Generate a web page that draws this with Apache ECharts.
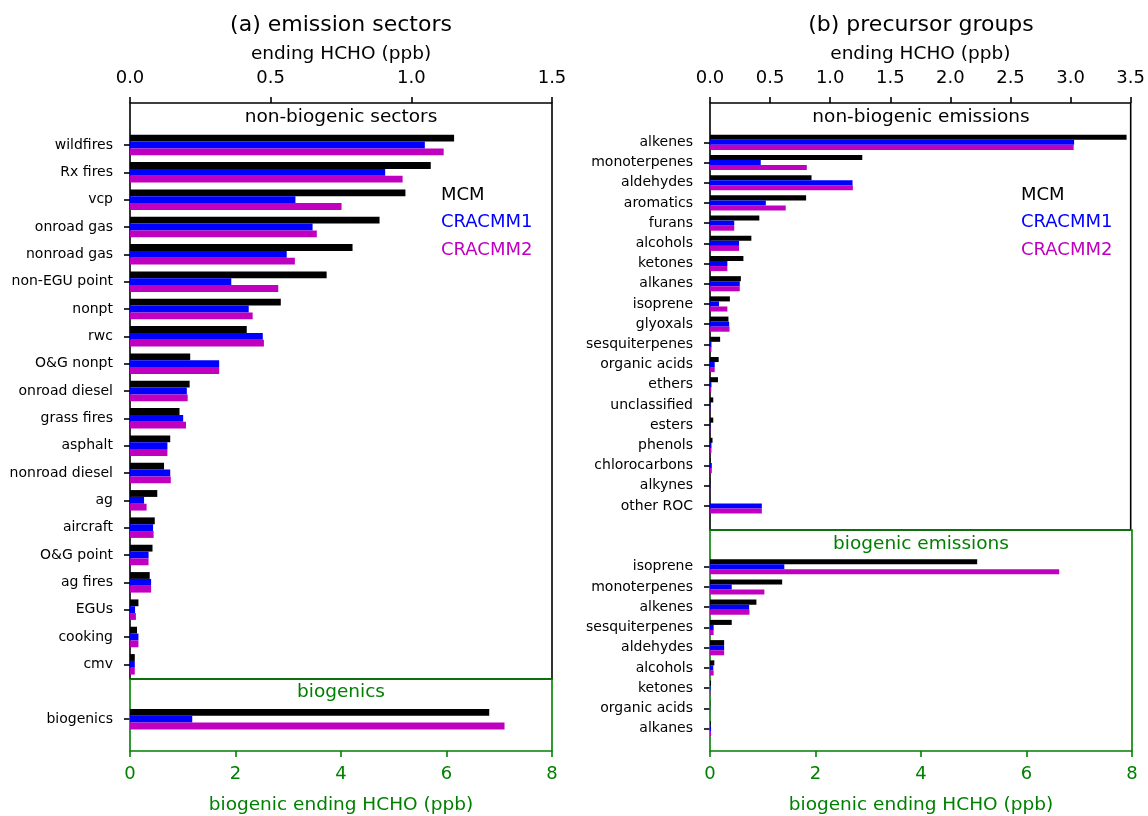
<!DOCTYPE html>
<html>
<head>
<meta charset="utf-8">
<script src="https://cdn.jsdelivr.net/npm/echarts@6/dist/echarts.min.js"></script>
<style>html,body{margin:0;padding:0;background:#fff}#c{width:1148px;height:816px}</style>
</head>
<body>
<div id="c"></div>
<script>
// ---- data ----
const sectorCats = ['wildfires','Rx fires','vcp','onroad gas','nonroad gas','non-EGU point','nonpt','rwc','O&G nonpt','onroad diesel','grass fires','asphalt','nonroad diesel','ag','aircraft','O&G point','ag fires','EGUs','cooking','cmv'];
const sectorMCM = [1.152,1.069,0.979,0.887,0.791,0.699,0.536,0.415,0.214,0.212,0.176,0.143,0.121,0.097,0.088,0.080,0.070,0.030,0.025,0.017];
const sectorC1  = [1.048,0.907,0.588,0.649,0.557,0.360,0.422,0.472,0.317,0.202,0.189,0.133,0.143,0.050,0.082,0.066,0.075,0.018,0.030,0.017];
const sectorC2  = [1.115,0.969,0.752,0.664,0.586,0.527,0.436,0.476,0.317,0.205,0.199,0.133,0.145,0.059,0.084,0.066,0.075,0.021,0.030,0.017];

const bioSectorCats = ['biogenics'];
const bioSectorMCM = [6.81];
const bioSectorC1  = [1.18];
const bioSectorC2  = [7.10];

const groupCats = ['alkenes','monoterpenes','aldehydes','aromatics','furans','alcohols','ketones','alkanes','isoprene','glyoxals','sesquiterpenes','organic acids','ethers','unclassified','esters','phenols','chlorocarbons','alkynes','other ROC'];
const groupMCM = [3.455,1.263,0.842,0.797,0.409,0.343,0.277,0.256,0.165,0.153,0.084,0.072,0.066,0.027,0.027,0.021,0.004,0.003,0];
const groupC1  = [3.020,0.421,1.182,0.463,0.201,0.241,0.144,0.247,0.075,0.159,0.012,0.039,0.012,0.003,0.003,0.012,0.015,0.002,0.430];
const groupC2  = [3.016,0.803,1.185,0.628,0.201,0.241,0.144,0.247,0.144,0.162,0.012,0.039,0.010,0.003,0.003,0.012,0.015,0.002,0.430];

const bioGroupCats = ['isoprene','monoterpenes','alkenes','sesquiterpenes','aldehydes','alcohols','ketones','organic acids','alkanes'];
const bioGroupMCM = [5.065,1.368,0.880,0.412,0.268,0.082,0.020,0.005,0.015];
const bioGroupC1  = [1.409,0.412,0.742,0.069,0.268,0.062,0.010,0.003,0.020];
const bioGroupC2  = [6.620,1.031,0.749,0.069,0.268,0.069,0.010,0.003,0.020];

const topTicksA = [0, 1.5, 0.5];   // min, max, interval
const topTicksB = [0, 3.5, 0.5];
const bioTicks  = [0, 8, 2];

const seriesNames = ['MCM','CRACMM1','CRACMM2'];
const seriesColors = ['#000000','#0000ff','#bf00bf'];

// ---- layout ----
const FONT = 'DejaVu Sans';
const GREEN = '#008000';
const LW = 1.6;
const panels = [
  {left:130, width:422},
  {left:710, width:422}
];

const grids = [], xAxes = [], yAxes = [], series = [];

function addFrame(p, top, height, color, ticks, pos, fmt, name) {
  const i = grids.length;
  grids.push({left:p.left, width:p.width, top:top, height:height, show:true,
    borderColor:color, borderWidth:LW, backgroundColor:'transparent', z: color===GREEN?2:1});
  const isTop = pos === 'top';
  xAxes.push({gridIndex:i, type:'value', position:pos, min:ticks[0], max:ticks[1], interval:ticks[2],
    axisLine:{show:false, onZero:false}, splitLine:{show:false},
    axisTick:{show:true, inside:false, length:6, lineStyle:{color:color, width:LW}},
    axisLabel:{show:true, color:color, fontFamily:FONT, fontSize:18, margin: isTop?16:14, formatter:fmt},
    name:name, nameLocation:'middle', nameGap: isTop?39:45,
    nameTextStyle:{color:color, fontFamily:FONT, fontSize:18.5}});
  yAxes.push({gridIndex:i, type:'value', show:false, min:0, max:1, axisLine:{onZero:false}});
}

function addData(p, top, height, cats, ticks, vals) {
  const i = grids.length;
  grids.push({left:p.left, width:p.width, top:top, height:height, show:false});
  xAxes.push({gridIndex:i, type:'value', show:false, min:ticks[0], max:ticks[1], interval:ticks[2],
    splitLine:{show:false}, axisLine:{show:false, onZero:false}, axisTick:{show:false}, axisLabel:{show:false}});
  yAxes.push({gridIndex:i, type:'category', data:cats, inverse:true,
    axisLine:{show:false, onZero:false},
    axisTick:{show:true, alignWithLabel:true, length:6, lineStyle:{color:'#000', width:LW}},
    axisLabel:{color:'#000', fontFamily:FONT, fontSize:14, margin:17}});
  vals.forEach((v, k) => {
    series.push({type:'bar', name:seriesNames[k], xAxisIndex:i, yAxisIndex:i, data:v,
      barWidth:'25%', barGap:'0%', itemStyle:{color:seriesColors[k]}, animation:false});
  });
}

const f1 = v => v.toFixed(1);
const f0 = v => String(v);

// panel (a)
addFrame(panels[0], 103, 576, '#000', topTicksA, 'top', f1, 'ending HCHO (ppb)');
addData(panels[0], 131.3, 546.7, sectorCats, topTicksA, [sectorMCM, sectorC1, sectorC2]);
addFrame(panels[0], 679, 73, GREEN, bioTicks, 'bottom', f0, 'biogenic ending HCHO (ppb)');
addData(panels[0], 705.5, 27.3, bioSectorCats, bioTicks, [bioSectorMCM, bioSectorC1, bioSectorC2]);
// panel (b)
addFrame(panels[1], 103, 427, '#000', topTicksB, 'top', f1, 'ending HCHO (ppb)');
addData(panels[1], 132.2, 383.9, groupCats, topTicksB, [groupMCM, groupC1, groupC2]);
addFrame(panels[1], 530, 222, GREEN, bioTicks, 'bottom', f0, 'biogenic ending HCHO (ppb)');
addData(panels[1], 556.6, 182.2, bioGroupCats, bioTicks, [bioGroupMCM, bioGroupC1, bioGroupC2]);

function txt(x, y, s, size, color) {
  return {type:'text', x:x, y:y, z:10, style:{text:s, fill:color, fontFamily:FONT, fontSize:size, align:'center', verticalAlign:'middle'}};
}
const cA = panels[0].left + panels[0].width/2;
const cB = panels[1].left + panels[1].width/2;

const legendData = seriesNames.map((n, k) => ({name:n, textStyle:{color:seriesColors[k]}}));
function legendAt(x) {
  return {data:legendData, orient:'vertical', left:x, top:186, padding:0, itemWidth:0, itemHeight:0,
    itemGap:9.5, selectedMode:false, textStyle:{fontFamily:FONT, fontSize:18}};
}

const chart = echarts.init(document.getElementById('c'), null, {renderer:'canvas'});
chart.setOption({
  backgroundColor:'#ffffff',
  animation:false,
  grid:grids, xAxis:xAxes, yAxis:yAxes, series:series,
  legend:[legendAt(436), legendAt(1016)],
  graphic:[
    txt(cA, 25, '(a) emission sectors', 22, '#000'),
    txt(cB, 25, '(b) precursor groups', 22, '#000'),
    txt(cA, 117, 'non-biogenic sectors', 18.5, '#000'),
    txt(cB, 117, 'non-biogenic emissions', 18.5, '#000'),
    txt(cA, 692, 'biogenics', 18.5, GREEN),
    txt(cB, 544, 'biogenic emissions', 18.5, GREEN)
  ]
});
</script>
</body>
</html>
